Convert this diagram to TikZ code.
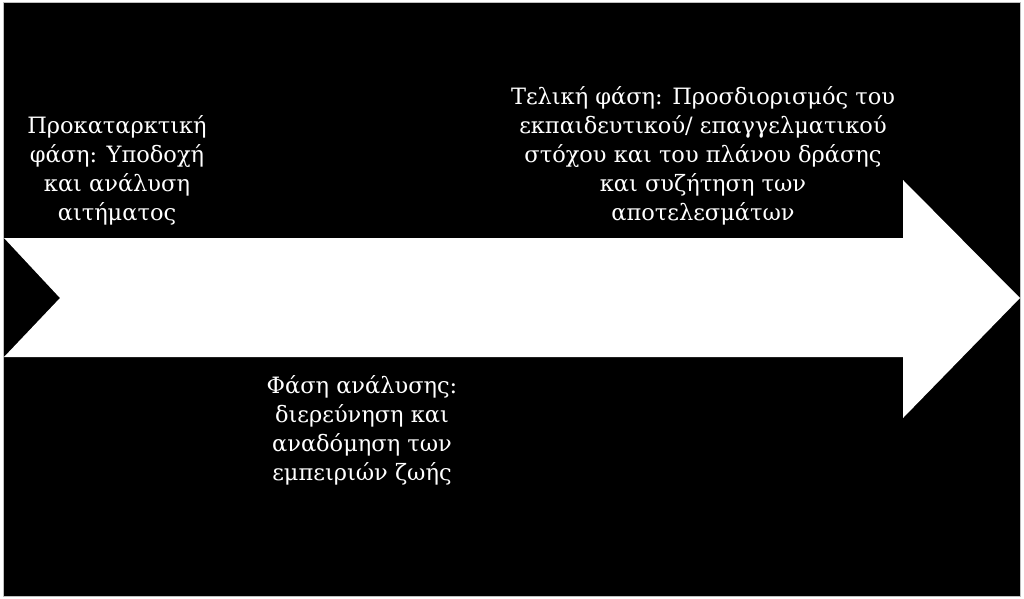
\documentclass[tikz,border=0pt]{standalone}
\usepackage{fontspec}
\setmainfont{DejaVu Serif}
\usetikzlibrary{positioning}
\tikzstyle{frame} = [fill=black, draw=white!75!black, line width=1pt]
\tikzstyle{big arrow} = [fill=white, draw=none]
\tikzstyle{phase} = [text=white, align=center, inner sep=0pt, font=\fontsize{22.5}{29}\selectfont]

\begin{document}
\begin{tikzpicture}[x=1pt, y=-1pt]
  \useasboundingbox (0,0) rectangle (1024,598);
  \draw[frame] (3,2) rectangle (1020,596);
  % the arrow, tail notch on the left, head on the right
  \coordinate (tail) at (4,238);
  \coordinate (notch) at (60,298);
  \coordinate (tip) at (1020,298);
  \fill[big arrow] (tail) -- (903,238) -- (903,180) -- (tip) -- (903,418)
    -- (903,357) -- (4,357) -- (notch) -- cycle;
  \node[phase] (prelim) at (117,170) {Προκαταρκτική\\φάση: Υποδοχή\\και ανάλυση\\αιτήματος};
  \node[phase] (final) at (703,156) {Τελική φάση: Προσδιορισμός του\\εκπαιδευτικού/ επαγγελματικού\\στόχου και του πλάνου δράσης\\και συζήτηση των\\αποτελεσμάτων};
  \node[phase] (analysis) at (362,430) {Φάση ανάλυσης:\\διερεύνηση και\\αναδόμηση των\\εμπειριών ζωής};
\end{tikzpicture}
\end{document}
